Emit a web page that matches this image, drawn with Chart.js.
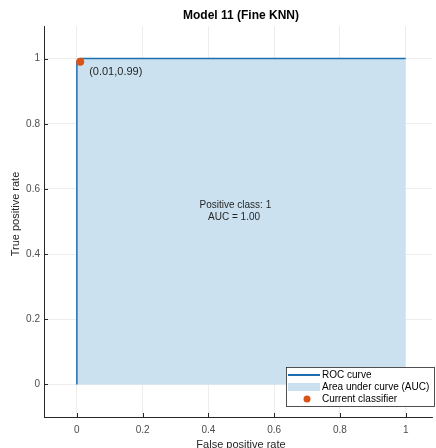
<!DOCTYPE html>
<html>
<head>
<meta charset="utf-8">
<script src="https://cdn.jsdelivr.net/npm/chart.js@4.4.1/dist/chart.umd.min.js"></script>
<style>
  html, body { margin: 0; padding: 0; background: #fff; }
  #wrap { width: 436px; height: 448px; position: relative; }
</style>
</head>
<body>
<div id="wrap"><canvas id="roc"></canvas></div>
<script>
// ROC curve points (false positive rate, true positive rate)
const rocFpr = [0, 0, 0.01, 1];
const rocTpr = [0, 0.99, 1, 1];
// current classifier operating point
const pointFpr = [0.01];
const pointTpr = [0.99];
// tick labels for both axes
const tickValues = [0, 0.2, 0.4, 0.6, 0.8, 1];
const tickLabels = ['0', '0.2', '0.4', '0.6', '0.8', '1'];

const chartTitle = 'Model 11 (Fine KNN)';
const xTitle = 'False positive rate';
const yTitle = 'True positive rate';
const classText = ['Positive class: 1', 'AUC = 1.00'];
const legendLabels = ['ROC curve', 'Area under curve (AUC)', 'Current classifier'];

const lineColor = '#1f6fb0';
const fillColor = '#cbe1f0';
const dotColor = '#D95319';
const fontFamily = '"Liberation Sans", Arial, sans-serif';

const rocData = rocFpr.map((x, i) => ({ x: x, y: rocTpr[i] }));
// area under curve: close the ROC polygon down to tpr = 0
const aucData = rocData.concat([{ x: rocFpr[rocFpr.length - 1], y: 0 }]);
const pointData = pointFpr.map((x, i) => ({ x: x, y: pointTpr[i] }));

function fixedTicks(scale) {
    scale.ticks = tickValues.map(v => ({ value: v }));
}

// Draws title, axis titles, inward ticks, annotations and the legend box
const decorations = {
    id: 'decorations',
    afterDatasetsDraw(chart) {
        const ctx = chart.ctx;
        const area = chart.chartArea;
        const xs = chart.scales.x, ys = chart.scales.y;
        ctx.save();

        // inward tick marks like the original
        ctx.strokeStyle = '#262626';
        ctx.lineWidth = 1;
        ctx.beginPath();
        tickValues.forEach(v => {
            const px = Math.round(xs.getPixelForValue(v)) + 0.5;
            ctx.moveTo(px, area.bottom);
            ctx.lineTo(px, area.bottom - 4);
            const py = Math.round(ys.getPixelForValue(v)) + 0.5;
            ctx.moveTo(area.left, py);
            ctx.lineTo(area.left + 4, py);
        });
        ctx.stroke();

        ctx.fillStyle = '#000';
        ctx.textAlign = 'center';
        ctx.textBaseline = 'middle';
        ctx.font = 'bold 12px ' + fontFamily;
        ctx.fillText(chartTitle, 241, 16);

        ctx.fillStyle = '#262626';
        ctx.font = '11px ' + fontFamily;
        ctx.fillText(xTitle, 241, 445);
        ctx.save();
        ctx.translate(16, 214);
        ctx.rotate(-Math.PI / 2);
        ctx.fillText(yTitle, 0, 0);
        ctx.restore();

        // data tip beside the operating point
        ctx.textAlign = 'left';
        ctx.font = '11px ' + fontFamily;
        ctx.fillText('(' + pointFpr[0].toFixed(2) + ',' + pointTpr[0].toFixed(2) + ')',
            xs.getPixelForValue(pointFpr[0]) + 9, ys.getPixelForValue(pointTpr[0]) + 10);

        ctx.textAlign = 'center';
        ctx.font = '10px ' + fontFamily;
        ctx.fillText(classText[0], xs.getPixelForValue(0.482), ys.getPixelForValue(0.549));
        ctx.fillText(classText[1], xs.getPixelForValue(0.478), ys.getPixelForValue(0.514));

        // legend
        const lx = 286, ly = 367, lw = 148, lh = 39;
        ctx.fillStyle = '#fff';
        ctx.fillRect(lx, ly, lw, lh);
        ctx.strokeStyle = '#262626';
        ctx.lineWidth = 0.8;
        ctx.strokeRect(lx + 0.5, ly + 0.5, lw, lh);
        const rows = [ly + 8, ly + 20, ly + 32];
        ctx.strokeStyle = lineColor;
        ctx.lineWidth = 2;
        ctx.beginPath();
        ctx.moveTo(lx + 2, rows[0]);
        ctx.lineTo(lx + 34, rows[0]);
        ctx.stroke();
        ctx.fillStyle = fillColor;
        ctx.fillRect(lx + 2, rows[1] - 4, 32, 8);
        ctx.fillStyle = dotColor;
        ctx.beginPath();
        ctx.arc(lx + 21, rows[2], 3.5, 0, Math.PI * 2);
        ctx.fill();
        ctx.fillStyle = '#000';
        ctx.textAlign = 'left';
        ctx.font = '10px ' + fontFamily;
        legendLabels.forEach((t, i) => ctx.fillText(t, lx + 36, rows[i]));
        ctx.restore();
    }
};

const ctx = document.getElementById('roc').getContext('2d');
new Chart(ctx, {
    type: 'scatter',
    data: {
        datasets: [
            {
                label: legendLabels[1],
                data: aucData,
                order: 3,  // behind everything
                showLine: true,
                fill: 'origin',
                backgroundColor: fillColor,
                borderWidth: 0,
                pointRadius: 0,
                tension: 0
            },
            {
                label: legendLabels[0],
                data: rocData,
                order: 2,
                showLine: true,
                fill: false,
                borderColor: lineColor,
                borderWidth: 1.5,
                pointRadius: 0,
                tension: 0
            },
            {
                label: legendLabels[2],
                data: pointData,
                order: 1,  // on top
                showLine: false,
                pointRadius: 4,
                pointBackgroundColor: dotColor,
                pointBorderColor: dotColor,
                pointBorderWidth: 0
            }
        ]
    },
    options: {
        responsive: true,
        maintainAspectRatio: false,
        animation: false,
        layout: { padding: { top: 26, right: 0, bottom: 0, left: 0 } },
        plugins: {
            legend: { display: false },
            title: { display: false },
            tooltip: { enabled: false }
        },
        scales: {
            x: {
                type: 'linear',
                min: -0.1,
                max: 1.08,
                afterBuildTicks: fixedTicks,
                afterFit: s => { s.height = 31; s.paddingLeft = 0; s.paddingRight = 0; },
                grid: { color: '#e8e8e8', drawTicks: false, lineWidth: 0.8 },
                border: { color: '#262626', width: 1 },
                ticks: {
                    color: '#4d4d4d',
                    padding: 7,
                    font: { size: 10, family: fontFamily },
                    callback: v => tickLabels[tickValues.indexOf(v)]
                }
            },
            y: {
                type: 'linear',
                min: -0.1,
                max: 1.1,
                afterBuildTicks: fixedTicks,
                afterFit: s => { s.width = 44; s.paddingTop = 0; s.paddingBottom = 0; },
                grid: { color: '#e8e8e8', drawTicks: false, lineWidth: 0.8 },
                border: { color: '#262626', width: 1 },
                ticks: {
                    color: '#4d4d4d',
                    padding: 4,
                    font: { size: 10, family: fontFamily },
                    callback: v => tickLabels[tickValues.indexOf(v)]
                }
            }
        }
    },
    plugins: [decorations]
});
</script>
</body>
</html>
